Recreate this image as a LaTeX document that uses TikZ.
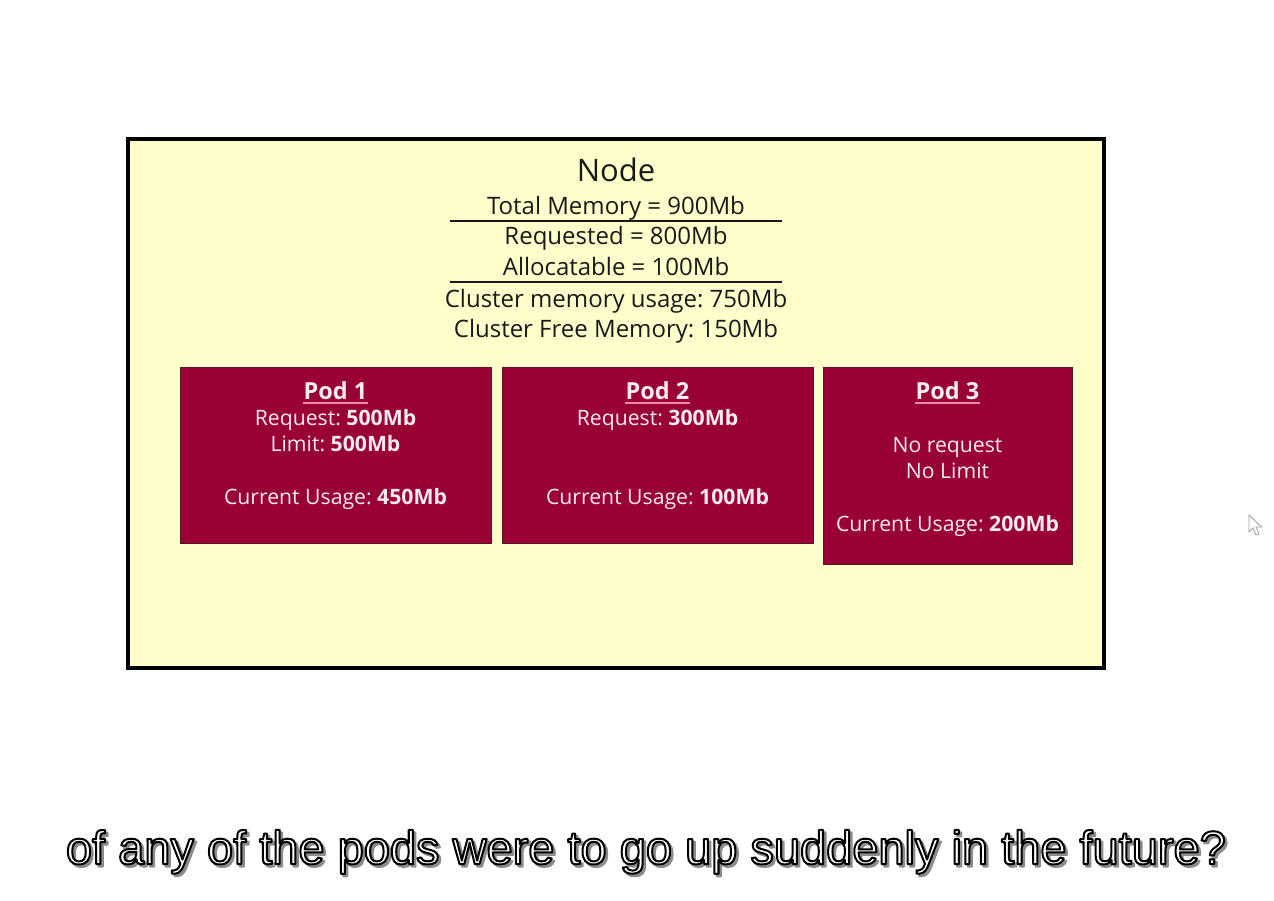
\documentclass[tikz,border=0pt]{standalone}
\usepackage{fontspec}
\setmainfont{Open Sans}
\newfontfamily\subfont{Liberation Sans}
\frenchspacing
\definecolor{nodefill}{RGB}{255,255,204}
\definecolor{podfill}{RGB}{153,0,51}
\definecolor{podedge}{RGB}{90,20,40}
\definecolor{podtext}{RGB}{252,236,242}
\definecolor{podline}{RGB}{232,140,170}
\definecolor{txt}{RGB}{25,25,25}
\definecolor{shadowgray}{RGB}{140,140,140}
\newcommand{\outlinetext}[1]{\special{pdf:code q 0 0 0 RG 1 1 1 rg 2.0 w 1 j 2 Tr}#1\special{pdf:code Q}}
\newcommand{\shadowtext}[1]{\special{pdf:code q 0.55 0.55 0.55 RG 0.55 0.55 0.55 rg 2.0 w 1 j 2 Tr}#1\special{pdf:code Q}}
\tikzset{
  nodebox/.style={draw=black, line width=4pt, fill=nodefill, inner sep=0pt},
  podbox/.style={draw=podedge, line width=1pt, fill=podfill, inner sep=0pt},
  hdr/.style={text=txt, inner sep=0pt, anchor=base, font=\fontsize{24}{30}\selectfont},
  title/.style={text=txt, inner sep=0pt, anchor=base, font=\fontsize{31}{34}\selectfont},
  podtxt/.style={text=podtext, inner sep=0pt, anchor=base, font=\fontsize{21.2}{26}\selectfont},
  podttl/.style={text=podtext, inner sep=0pt, anchor=base, font=\fontsize{23.5}{26}\selectfont\bfseries},
  sep/.style={draw=txt, line width=1.3pt},
  uline/.style={draw=podline, line width=1.8pt},
  sub/.style={inner sep=0pt, anchor=base, font=\fontsize{47}{52}\selectfont\subfont},
  cursor/.style={draw=gray!70, fill=white, line width=0.9pt, line join=miter}
}
\begin{document}
\begin{tikzpicture}[x=1pt,y=-1pt]
\useasboundingbox (0,0) rectangle (1274,901);
\fill[white] (0,0) rectangle (1274,901);
% outer node box
\node[nodebox, minimum width=976pt, minimum height=529pt] (nodebox) at (616,403.5) {};
% header texts
\node[title] (ntitle) at (616,182) {Node};
\node[hdr] (total) at (616,215) {Total Memory = 900Mb};
\coordinate (s1a) at (450,221);
\coordinate (s1b) at (782,221);
\draw[sep] (s1a) -- (s1b);
\node[hdr] (req) at (616,245) {Requested = 800Mb};
\node[hdr] (alloc) at (616,276) {Allocatable = 100Mb};
\coordinate (s2a) at (450,282);
\coordinate (s2b) at (782,282);
\draw[sep] (s2a) -- (s2b);
\node[hdr] (usage) at (616,307) {Cluster memory usage: 750Mb};
\node[hdr] (free) at (616,337) {Cluster Free Memory: 150Mb};
% pods
\node[podbox, minimum width=311pt, minimum height=176pt] (pod1) at (335.5,455) {};
\node[podbox, minimum width=311pt, minimum height=176pt] (pod2) at (657.5,455) {};
\node[podbox, minimum width=249pt, minimum height=197pt] (pod3) at (947.5,465.5) {};
% pod 1
\node[podttl] (p1t) at (335.5,399) {Pod 1};
\draw[uline] ([yshift=-4pt]p1t.base west) -- ([yshift=-4pt]p1t.base east);
\node[podtxt] (p1r) at (335.5,425.5) {Request: \textbf{500Mb}};
\node[podtxt] (p1l) at (335.5,451.5) {Limit: \textbf{500Mb}};
\node[podtxt] (p1u) at (335.5,504.5) {Current Usage: \textbf{450Mb}};
% pod 2
\node[podttl] (p2t) at (657.5,399) {Pod 2};
\draw[uline] ([yshift=-4pt]p2t.base west) -- ([yshift=-4pt]p2t.base east);
\node[podtxt] (p2r) at (657.5,425.5) {Request: \textbf{300Mb}};
\node[podtxt] (p2u) at (657.5,504.5) {Current Usage: \textbf{100Mb}};
% pod 3
\node[podttl] (p3t) at (947.5,399) {Pod 3};
\draw[uline] ([yshift=-4pt]p3t.base west) -- ([yshift=-4pt]p3t.base east);
\node[podtxt] (p3r) at (947.5,452.5) {No request};
\node[podtxt] (p3l) at (947.5,478.5) {No Limit};
\node[podtxt] (p3u) at (947.5,531) {Current Usage: \textbf{200Mb}};
% cursor
\draw[cursor] (1249,515) -- (1249,532) -- (1253,528) -- (1256,535) -- (1259,534) -- (1256,527) -- (1261.5,527) -- cycle;
% subtitle
\node[sub, text=shadowgray] (subsh) at (648.5,866.5) {\shadowtext{of any of the pods were to go up suddenly in the future?}};
\node[sub, text=white] (subtxt) at (646,864) {\outlinetext{of any of the pods were to go up suddenly in the future?}};
\end{tikzpicture}
\end{document}
